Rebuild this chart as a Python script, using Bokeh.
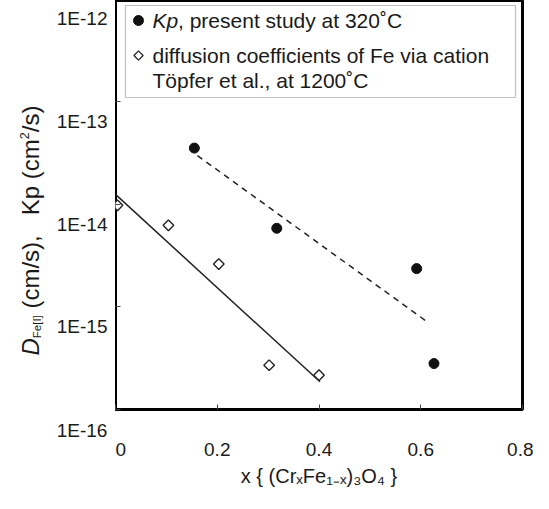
import math
from bokeh.plotting import figure
from bokeh.layouts import row
from bokeh.models import (Label, BoxAnnotation, FixedTicker, Range1d, CustomJSTickFormatter)
from bokeh.embed import file_html
from bokeh.resources import INLINE

# ---------------- data ----------------
kp_x = [0.155, 0.317, 0.592, 0.626]
kp_y = [3.5e-14, 5.8e-15, 2.35e-15, 2.8e-16]
kp_fit_x = [0.161, 0.615]
kp_fit_y = [2.96e-14, 7.0e-16]

topfer_x = [0.004, 0.104, 0.203, 0.302, 0.400]
topfer_y = [9.7e-15, 6.2e-15, 2.6e-15, 2.7e-16, 2.16e-16]
topfer_fit_x = [0.0, 0.402]
topfer_fit_y = [1.24e-14, 1.86e-16]

x_ticks = [0, 0.2, 0.4, 0.6, 0.8]
x_tick_labels = ["0", "0.2", "0.4", "0.6", "0.8"]
y_ticks = [1e-12, 1e-13, 1e-14, 1e-15, 1e-16]
y_tick_labels = ["1E-12", "1E-13", "1E-14", "1E-15", "1E-16"]

legend_kp_italic = "Kp"
legend_kp_rest = ", present study at 320˚C"
legend_topfer_1 = "diffusion coefficients of Fe via cation"
legend_topfer_2 = "Töpfer et al., at 1200˚C"
x_title = "x { (CrₓFe₁₋ₓ)₃O₄ }"
NB = "\u00a0"

FONT = "Liberation Sans"
INK = "#1a1a1a"

# page-pixel helpers for decorations (frame: x 123..530, decades 102.75 px, 1E-12 at y=6)
def px2x(px):
    return (px - 123) / 407 * 0.8

def px2y(py):
    return 10 ** (-12 - (py - 6) / 102.75)

Y_RANGE = (px2y(417), px2y(8))

# ---------------- main plot ----------------
p = figure(width=418, height=493,
           x_range=Range1d(0, 0.8), y_range=Range1d(*Y_RANGE),
           y_axis_type="log", output_backend="svg", toolbar_location=None,
           min_border_left=0, min_border_right=11, min_border_top=0, min_border_bottom=84)
p.grid.visible = False
p.outline_line_color = "black"
p.outline_line_width = 3
p.background_fill_color = "white"
p.border_fill_color = "white"

xa = p.xaxis[0]
xa.ticker = FixedTicker(ticks=x_ticks, minor_ticks=[])
xa.major_label_overrides = {t: l for t, l in zip(x_ticks, x_tick_labels)}
xa.axis_line_color = None
xa.major_tick_in = 5
xa.major_tick_out = 0
xa.major_tick_line_color = "#444"
xa.minor_tick_line_color = None
xa.major_label_standoff = 33
xa.major_label_text_font = FONT
xa.major_label_text_font_size = "19px"
xa.major_label_text_color = INK
xa.axis_label = x_title
xa.axis_label_text_font = FONT
xa.axis_label_text_font_style = "normal"
xa.axis_label_text_font_size = "20px"
xa.axis_label_text_color = INK
xa.axis_label_standoff = 6

ya = p.yaxis[0]
ya.ticker = FixedTicker(ticks=y_ticks, minor_ticks=[])
ya.formatter = CustomJSTickFormatter(code="return ''")
ya.axis_line_color = None
ya.major_tick_in = 5
ya.major_tick_out = 0
ya.major_tick_line_color = "#444"
ya.minor_tick_line_color = None
ya.major_label_text_font_size = "10px"
ya.major_label_standoff = 0

# fit lines
p.line(topfer_fit_x, topfer_fit_y, line_color="#222", line_width=1.5)
p.line(kp_fit_x, kp_fit_y, line_color="#222", line_width=1.5, line_dash="6 5")

# points
p.scatter(topfer_x, topfer_y, marker="square", angle=math.pi / 4, size=7.5,
          fill_color="white", line_color="#222", line_width=1.4)
p.scatter(kp_x, kp_y, marker="circle", size=10, fill_color="#111", line_color="#111")

# legend: box, keys, texts
p.add_layout(BoxAnnotation(left=px2x(133), right=px2x(523), top=px2y(13), bottom=px2y(105),
                           fill_color=None, line_color="#333", line_width=1.2))
p.scatter([px2x(146)], [px2y(28)], marker="circle", size=10, fill_color="#111", line_color="#111")
p.scatter([px2x(146)], [px2y(63)], marker="square", angle=math.pi / 4, size=6.5,
          fill_color="white", line_color="#222", line_width=1.3)

def txt(x_px, y_px, s, style="normal", size="21px"):
    p.add_layout(Label(x=px2x(x_px), y=px2y(y_px), text=s, text_align="left",
                       text_baseline="middle", text_font=FONT, text_font_size=size,
                       text_font_style=style, text_color=INK))

txt(160, 28, legend_kp_italic, style="italic")
txt(185.5, 28, legend_kp_rest)
txt(160, 63, legend_topfer_1)
txt(160, 88, legend_topfer_2)

# ---------------- left strip: y tick labels and y title ----------------
# x in page pixels minus the 8px page margin; frame aligned with the main plot frame
left = figure(width=115, height=493, x_range=Range1d(0, 115),
              y_range=Range1d(*Y_RANGE), y_axis_type="log",
              x_axis_location="below", y_axis_location=None,
              output_backend="svg", toolbar_location=None,
              min_border_left=0, min_border_right=0, min_border_top=0, min_border_bottom=84)
left.grid.visible = False
left.outline_line_color = None
left.background_fill_color = "white"
left.border_fill_color = "white"

# tick labels sit ~20px below their decade, as in the reference
for v, t in zip(y_ticks[:-1], y_tick_labels[:-1]):
    left.add_layout(Label(x=115 - 8, y=v, y_offset=-20, text=t, text_align="right",
                          text_baseline="middle", text_font=FONT, text_font_size="19px",
                          text_color=INK))

# the lowest label falls below the frame: drawn by this strip's bottom axis
lx = left.xaxis[0]
label_w = 51
lx.ticker = FixedTicker(ticks=[107 - label_w / 2], minor_ticks=[])
lx.major_label_overrides = {107 - label_w / 2: y_tick_labels[-1]}
lx.axis_line_color = None
lx.major_tick_line_color = None
lx.minor_tick_line_color = None
lx.major_tick_in = 0
lx.major_tick_out = 0
lx.major_label_standoff = 10
lx.major_label_text_font = FONT
lx.major_label_text_font_size = "19px"
lx.major_label_text_color = INK

# rotated y-axis title, built from pieces (italic D, subscript, superscript)
y_title_parts = [
    ("D", "italic", "24px", 38, 363),
    ("Fe[I]", "normal", "11.5px", 44.5, 345.7),
    (NB + "(cm/s)," + NB * 3 + "Kp" + NB + "(cm", "normal", "24px", 38, 322.7),
    ("2", "normal", "12.5px", 31.5, 146.7),
    ("/s)", "normal", "24px", 38, 139.7),
]
for s, style, size, xp, yp in y_title_parts:
    left.add_layout(Label(x=xp - 8, y=px2y(yp), text=s, angle=math.pi / 2,
                          text_align="left", text_baseline="middle", text_font=FONT,
                          text_font_size=size, text_font_style=style, text_color=INK))

layout = row(left, p)
open("out.html", "w").write(file_html(layout, INLINE))
